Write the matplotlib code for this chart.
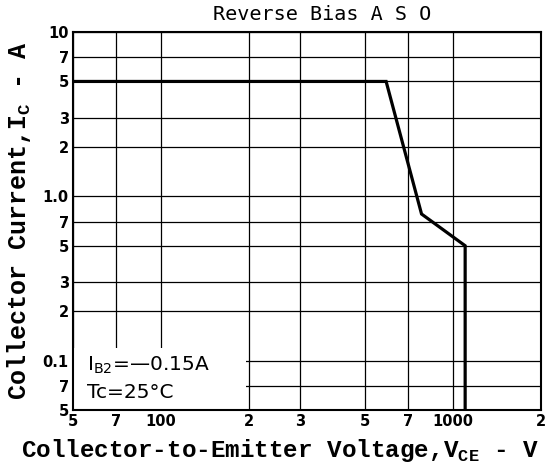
import matplotlib
matplotlib.use("Agg")
import matplotlib.pyplot as plt
from matplotlib.patches import Rectangle

# subscripts in the axis labels use the same mono face
plt.rcParams['mathtext.fontset'] = 'custom'
plt.rcParams['mathtext.tt'] = 'Liberation Mono:bold'
plt.rcParams['mathtext.rm'] = 'DejaVu Sans'

# reverse bias safe operating area
vce = [50, 590, 780, 1100, 1100]
ic = [5, 5, 0.78, 0.5, 0.05]

x_ticks = [50, 70, 100, 200, 300, 500, 700, 1000, 2000]
x_labels = ['5', '7', '100', '2', '3', '5', '7', '1000', '2']
y_ticks = [10, 7, 5, 3, 2, 1.0, 0.7, 0.5, 0.3, 0.2, 0.1, 0.07, 0.05]
y_labels = ['10', '7', '5', '3', '2', '1.0', '7', '5', '3', '2', '0.1', '7', '5']

fig = plt.figure(figsize=(5.5, 4.73), dpi=100)
ax = fig.add_axes([73 / 550, 1 - 410 / 473, 468 / 550, 378 / 473])

ax.set_xscale('log')
ax.set_yscale('log')
ax.set_xlim(50, 2000)
ax.set_ylim(0.05, 10)

ax.set_xticks(x_ticks)
ax.set_xticklabels(x_labels)
ax.set_yticks(y_ticks)
ax.set_yticklabels(y_labels)
ax.minorticks_off()
ax.tick_params(length=0, pad=3)
for lab in ax.get_xticklabels() + ax.get_yticklabels():
    lab.set_fontweight('bold')
    lab.set_fontsize(10.5)

# grid on every labelled value
ax.set_axisbelow(True)
ax.grid(True, color='black', linewidth=0.9)

# blank area under the condition text
ax.add_patch(Rectangle((50, 0.05), 145, 0.07, facecolor='white',
                       edgecolor='none', zorder=1))
ax.text(56, 0.093, r'I$_{\rm B2}$=' + '\u20140.15A', fontsize=14.5,
        family='DejaVu Sans', va='center', zorder=3)
ax.text(56, 0.064, 'Tc=25\u00b0C', fontsize=14.5,
        family='DejaVu Sans', va='center', zorder=3)

ax.plot(vce, ic, color='black', linewidth=2.3, zorder=2,
        solid_joinstyle='miter')

for sp in ax.spines.values():
    sp.set_linewidth(1.5)

fig.text(322 / 550, 1 - 15 / 473, 'Reverse Bias A S O', ha='center',
         va='center', family='DejaVu Sans Mono', fontsize=14.5)
fig.text(280 / 550, 1 - 450 / 473,
         r'Collector-to-Emitter Voltage,V$_{\mathtt{CE}}$ - V',
         ha='center', va='center', family='Liberation Mono',
         fontweight='bold', fontsize=17.5)
ax.set_ylabel(r'Collector Current,I$_{\mathtt{C}}$ - A',
              family='Liberation Mono', fontweight='bold', fontsize=18,
              labelpad=7)

fig.savefig('out.png', dpi=100)
